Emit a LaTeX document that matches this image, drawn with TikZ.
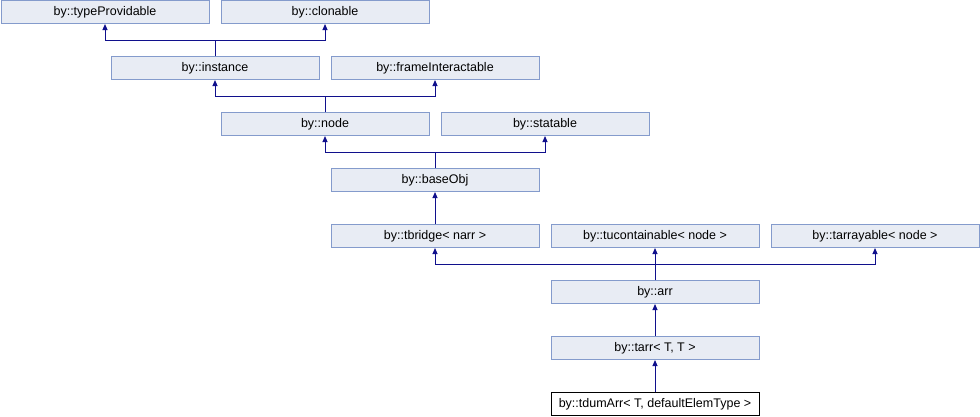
\documentclass[tikz,border=0pt]{standalone}
\usepackage{fontspec}
\setmainfont{Liberation Sans}
\usetikzlibrary{arrows.meta, positioning}

\definecolor{clsfill}{RGB}{232,236,244}
\definecolor{clsdraw}{RGB}{132,155,204}
\definecolor{inhline}{RGB}{16,16,140}

\begin{document}
\begin{tikzpicture}[x=1pt, y=-1pt,
    cls/.style={draw=clsdraw, fill=clsfill, line width=1pt, minimum width=208pt, minimum height=23pt, inner sep=0pt, font=\fontsize{12.5}{14}\selectfont},
    self/.style={cls, draw=black, fill=white},
    inh/.style={draw=inhline, line width=1pt, -{Triangle[length=6pt, width=5pt]}}
]
    \useasboundingbox (0,0) rectangle (980,416);

    % Row 1
    \node[cls] (typeprov) at (105, 12) {by::typeProvidable};
    \node[cls] (clonable) at (325, 12) {by::clonable};

    % Row 2
    \node[cls] (instance) at (215, 68) {by::instance};
    \node[cls] (frameint) at (435, 68) {by::frameInteractable};

    % Row 3
    \node[cls] (node) at (325, 124) {by::node};
    \node[cls] (statable) at (545, 124) {by::statable};

    % Row 4
    \node[cls] (baseobj) at (435, 180) {by::baseObj};

    % Row 5
    \node[cls] (tbridge) at (435, 236) {by::tbridge< narr >};
    \node[cls] (tucont) at (655, 236) {by::tucontainable< node >};
    \node[cls] (tarray) at (875, 236) {by::tarrayable< node >};

    % Rows 6-8
    \node[cls] (arr) at (655, 292) {by::arr};
    \node[cls] (tarr) at (655, 348) {by::tarr< T, T >};
    \node[self] (tdumarr) at (655, 404) {by::tdumArr< T, defaultElemType >};

    % Inheritance
    \draw[inh] (instance.north) -- ++(0,-16) -| (typeprov.south);
    \draw[inh] (instance.north) -- ++(0,-16) -| (clonable.south);
    \draw[inh] (node.north) -- ++(0,-16) -| (instance.south);
    \draw[inh] (node.north) -- ++(0,-16) -| (frameint.south);
    \draw[inh] (baseobj.north) -- ++(0,-16) -| (node.south);
    \draw[inh] (baseobj.north) -- ++(0,-16) -| (statable.south);
    \draw[inh] (tbridge.north) -- (baseobj.south);
    \draw[inh] (arr.north) -- ++(0,-16) -| (tbridge.south);
    \draw[inh] (arr.north) -- (tucont.south);
    \draw[inh] (arr.north) -- ++(0,-16) -| (tarray.south);
    \draw[inh] (tarr.north) -- (arr.south);
    \draw[inh] (tdumarr.north) -- (tarr.south);
\end{tikzpicture}
\end{document}
